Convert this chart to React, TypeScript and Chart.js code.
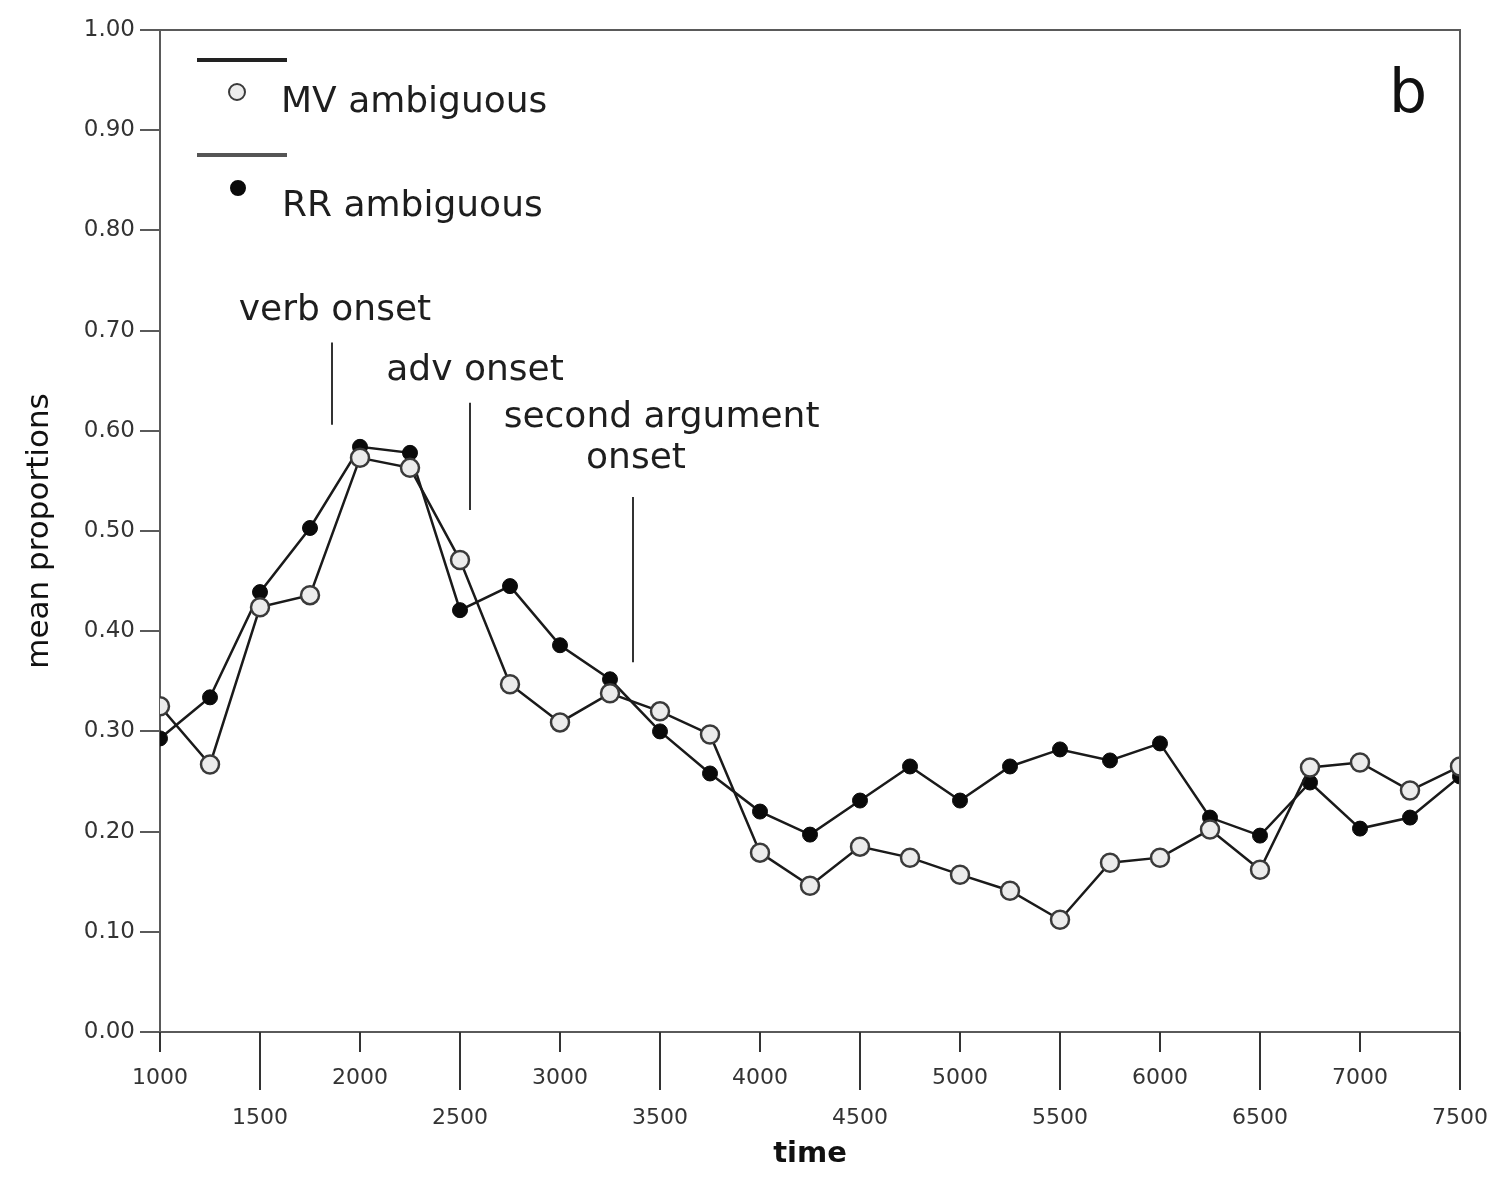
import React, { useEffect, useRef } from "react";
import { Chart, registerables } from "chart.js";

Chart.register(...registerables);

// ---- data ----
const TIMES = [
  1000, 1250, 1500, 1750, 2000, 2250, 2500, 2750, 3000, 3250, 3500, 3750, 4000, 4250,
  4500, 4750, 5000, 5250, 5500, 5750, 6000, 6250, 6500, 6750, 7000, 7250, 7500,
];
const MV_AMBIGUOUS = [
  0.325, 0.267, 0.424, 0.436, 0.573, 0.563, 0.471, 0.347, 0.309, 0.338, 0.32, 0.297, 0.179,
  0.146, 0.185, 0.174, 0.157, 0.141, 0.112, 0.169, 0.174, 0.202, 0.162, 0.264, 0.269, 0.241,
  0.265,
];
const RR_AMBIGUOUS = [
  0.293, 0.334, 0.439, 0.503, 0.584, 0.578, 0.421, 0.445, 0.386, 0.352, 0.3, 0.258, 0.22,
  0.197, 0.231, 0.265, 0.231, 0.265, 0.282, 0.271, 0.288, 0.214, 0.196, 0.249, 0.203, 0.214,
  0.255,
];
const SERIES_NAMES = ["MV ambiguous", "RR ambiguous"];
const X_TITLE = "time";
const Y_TITLE = "mean proportions";
const PANEL_LETTER = "b";

// onset marker lines (time, from value, to value)
const ONSET_LINES = [
  { time: 1860, from: 0.606, to: 0.688 },
  { time: 2550, from: 0.521, to: 0.628 },
  { time: 3365, from: 0.369, to: 0.534 },
];
// onset labels (text, centre time, baseline value)
const ONSET_LABELS = [
  { text: "verb onset", time: 1875, value: 0.711 },
  { text: "adv onset", time: 2575, value: 0.651 },
  { text: "second argument", time: 3508, value: 0.604 },
  { text: "onset", time: 3380, value: 0.563 },
];

const FONT = "'DejaVu Sans', 'Liberation Sans', sans-serif";
const INK = "#1e1e1e";
const AXIS = "#5a5a5a";

const decorPlugin = {
  id: "decor",
  afterDraw(chart: any) {
    const { ctx, chartArea: a, scales } = chart;
    const x = scales.x;
    const y = scales.y;
    ctx.save();
    // frame top + right
    ctx.strokeStyle = AXIS;
    ctx.lineWidth = 2;
    ctx.beginPath();
    ctx.moveTo(a.left, a.top);
    ctx.lineTo(a.right, a.top);
    ctx.lineTo(a.right, a.bottom);
    ctx.stroke();

    // x tick marks (short at thousands, long at half-thousands)
    ctx.strokeStyle = "#333";
    ctx.lineWidth = 2;
    for (const t of x.ticks) {
      const px = Math.round(x.getPixelForValue(t.value));
      const len = t.value % 1000 === 0 ? 20 : 58;
      ctx.beginPath();
      ctx.moveTo(px, a.bottom);
      ctx.lineTo(px, a.bottom + len);
      ctx.stroke();
    }

    // onset lines
    ctx.strokeStyle = "#333";
    ctx.lineWidth = 2;
    for (const l of ONSET_LINES) {
      const px = x.getPixelForValue(l.time);
      ctx.beginPath();
      ctx.moveTo(px, y.getPixelForValue(l.from));
      ctx.lineTo(px, y.getPixelForValue(l.to));
      ctx.stroke();
    }
    // onset labels
    ctx.fillStyle = INK;
    ctx.font = `36px ${FONT}`;
    ctx.textAlign = "center";
    ctx.textBaseline = "alphabetic";
    for (const l of ONSET_LABELS) {
      ctx.fillText(l.text, x.getPixelForValue(l.time), y.getPixelForValue(l.value));
    }

    // legend
    const ds = chart.data.datasets;
    const rows = [
      { lineY: a.top + 30, mx: a.left + 77, my: a.top + 62, ty: a.top + 82, tx: a.left + 121 },
      { lineY: a.top + 125, mx: a.left + 78, my: a.top + 158, ty: a.top + 186, tx: a.left + 122 },
    ];
    rows.forEach((r, i) => {
      const d = ds[i];
      ctx.strokeStyle = i === 0 ? "#222" : "#555";
      ctx.lineWidth = 4;
      ctx.beginPath();
      ctx.moveTo(a.left + 37, r.lineY);
      ctx.lineTo(a.left + 127, r.lineY);
      ctx.stroke();
      ctx.beginPath();
      ctx.arc(r.mx, r.my, i === 0 ? 8 : 7, 0, Math.PI * 2);
      ctx.fillStyle = d.pointBackgroundColor;
      ctx.fill();
      ctx.strokeStyle = d.pointBorderColor;
      ctx.lineWidth = 2;
      ctx.stroke();
      ctx.fillStyle = INK;
      ctx.font = `36px ${FONT}`;
      ctx.textAlign = "left";
      ctx.fillText(d.label, r.tx, r.ty);
    });

    // panel letter
    ctx.font = `60px ${FONT}`;
    ctx.textAlign = "center";
    ctx.fillStyle = "#111";
    ctx.fillText(PANEL_LETTER, a.right - 52, a.top + 82);
    ctx.restore();
  },
};

export default function App() {
  const ref = useRef<HTMLCanvasElement>(null);
  useEffect(() => {
    Chart.defaults.font.family = FONT;
    const chart = new Chart(ref.current!, {
      type: "line",
      data: {
        labels: TIMES,
        datasets: [
          {
            label: SERIES_NAMES[0],
            data: TIMES.map((t, i) => ({ x: t, y: MV_AMBIGUOUS[i] })),
            borderColor: "#1a1a1a",
            borderWidth: 2.5,
            pointRadius: 9,
            pointBorderWidth: 2.5,
            pointBackgroundColor: "#ececec",
            pointBorderColor: "#3a3a3a",
            tension: 0,
          },
          {
            label: SERIES_NAMES[1],
            data: TIMES.map((t, i) => ({ x: t, y: RR_AMBIGUOUS[i] })),
            borderColor: "#1a1a1a",
            borderWidth: 2.5,
            pointRadius: 7.5,
            pointBorderWidth: 1,
            pointBackgroundColor: "#0a0a0a",
            pointBorderColor: "#0a0a0a",
            tension: 0,
          },
        ],
      },
      options: {
        responsive: false,
        animation: false,
        layout: { padding: { left: 10, top: 22, right: 28, bottom: 0 } },
        plugins: { legend: { display: false }, tooltip: { enabled: false } },
        scales: {
          x: {
            type: "linear",
            min: 1000,
            max: 7500,
            afterFit: (s: any) => {
              s.height = 137;
              s.paddingLeft = 0;
              s.paddingRight = 0;
            },
            ticks: {
              stepSize: 500,
              autoSkip: false,
              maxRotation: 0,
              minRotation: 0,
              padding: 18,
              color: "#333",
              font: { size: 22, lineHeight: 1.82 },
              callback: (v: any) => (Number(v) % 1000 === 0 ? [String(v)] : ["", String(v)]),
            },
            grid: { display: false },
            border: { display: true, color: AXIS, width: 2 },
            title: {
              display: true,
              text: X_TITLE,
              color: "#111",
              font: { size: 29, weight: "bold", lineHeight: 1 },
              padding: { top: 0, bottom: 0 },
            },
          },
          y: {
            min: 0,
            max: 1,
            afterFit: (s: any) => {
              s.width = 142;
              s.paddingTop = 0;
              s.paddingBottom = 0;
            },
            ticks: {
              stepSize: 0.1,
              padding: 5,
              color: "#333",
              font: { size: 23 },
              callback: (v: any) => Number(v).toFixed(2),
            },
            grid: {
              display: true,
              drawOnChartArea: false,
              drawTicks: true,
              tickLength: 20,
              color: AXIS,
              lineWidth: 2,
            },
            border: { display: true, color: AXIS, width: 2 },
            title: {
              display: true,
              text: Y_TITLE,
              color: "#111",
              font: { size: 31 },
              padding: { top: 3, bottom: 0 },
            },
          },
        },
      },
      plugins: [decorPlugin],
    } as any);
    return () => chart.destroy();
  }, []);
  return <canvas ref={ref} width={1480} height={1161} style={{ display: "block" }} />;
}
